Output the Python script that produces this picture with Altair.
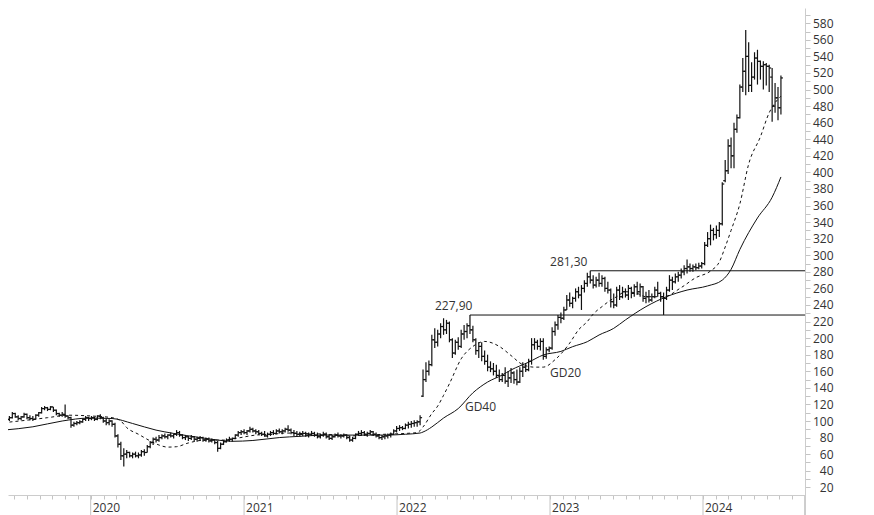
import altair as alt
import pandas as pd

# ---------------- data (weekly OHLC) ----------------
first_week = "2019-06-07"

opens = [96,99,102,104,109,105,103,105,108,104,103,102,107,110,115,116,114,117,113,109,
         107,108,106,104,95,97,98,99,102,104,103,104,102,106,104,100,98,100,96,82,
         72,58,60,62,58,60,58,59,63,62,69,74,78,77,80,82,81,83,82,84,
         86,83,80,81,79,81,78,79,80,77,78,76,77,74,67,72,75,77,78,79,
         83,86,87,86,88,90,88,87,85,84,82,84,86,85,88,87,88,90,89,86,
         85,84,84,85,83,84,85,83,81,83,84,81,79,81,83,82,82,83,80,77,
         79,84,85,86,84,85,87,84,82,80,81,82,83,84,88,91,92,91,95,96,
         97,98,99,130,150,160,168,198,195,205,214,210,218,198,182,195,190,205,208,215,
         210,198,185,190,178,172,165,163,160,155,150,155,148,152,158,150,147,160,165,162,
         172,192,195,190,196,178,186,188,208,216,225,224,234,246,242,248,256,252,260,266,
         274,270,264,270,266,272,260,258,244,240,258,250,256,252,260,254,262,256,262,248,
         250,246,250,258,254,250,248,258,270,268,274,276,280,284,286,284,286,285,287,290,
         312,320,330,325,330,338,390,402,432,420,452,466,503,522,540,505,515,538,534,528,
         530,528,515,480,490,478]
highs = [101,103,106,111,110,107,106,110,109,107,106,108,111,117,118,117,118,117,114,110,
         111,120,107,105,99,100,101,103,106,105,106,105,107,108,105,103,102,101,98,84,
         75,67,65,63,62,63,62,65,66,71,76,80,81,83,84,85,84,86,85,89,
         88,84,83,82,83,82,81,82,81,80,80,79,78,76,74,77,79,81,80,84,
         88,89,90,89,93,92,90,89,87,88,86,88,89,90,91,90,92,95,91,89,
         88,87,88,87,86,88,87,86,85,87,86,84,83,85,86,84,85,84,82,81,
         85,88,89,88,87,89,88,86,84,83,84,85,86,90,94,95,94,97,99,100,
         101,101,107,162,171,173,204,212,210,218,224,222,220,200,198,201,210,216,218,227.9,
         215,200,195,195,185,180,172,170,168,162,158,165,160,164,160,162,165,171,170,175,
         200,200,198,200,200,189,190,213,220,228,231,238,252,255,250,260,262,264,270,279,
         281.3,276,274,279,276,274,268,260,254,262,264,262,260,264,262,265,268,266,263,256,
         258,254,262,268,256,255,262,276,274,278,280,284,288,295,290,289,290,291,292,316,
         328,337,333,336,340,388,415,440,442,460,470,506,538,572,557,533,545,548,535,534,
         532,530,526,508,503,517]
lows = [95,98,100,103,104,101,101,104,102,101,100,102,105,109,113,112,113,111,107,105,
        105,104,102,92,93,95,96,98,100,100,101,100,101,102,98,95,95,93,80,68,
        53,45,55,56,55,56,55,57,58,62,67,71,74,75,78,79,78,80,79,82,
        81,78,77,76,77,76,75,76,75,75,74,74,72,63,66,71,74,75,75,78,
        81,83,84,83,86,86,84,83,82,81,80,82,83,84,85,84,86,87,84,82,
        81,81,82,81,80,82,81,79,79,81,79,77,77,80,80,79,80,78,75,75,
        78,82,83,82,81,83,82,80,78,77,78,79,80,83,86,88,89,90,91,92,
        93,93,95,129,147,155,166,188,190,200,204,205,195,176,180,186,188,198,200,205,
        195,180,176,172,168,160,159,155,152,147,147,145,141,146,145,143,146,153,159,160,
        168,186,186,185,174,175,183,186,203,210,218,222,234,238,236,244,248,234,255,262,
        266,260,261,262,262,256,254,237,236,238,246,248,249,246,248,250,252,250,244,242,
        243,244,248,250,244,228,246,256,258,266,268,272,276,278,280,280,282,283,284,288,
        310,312,318,320,322,336,388,398,405,405,448,465,497,493,497,497,512,506,512,500,
        505,497,461,472,463,470]
closes = [99,102,104,109,105,103,105,108,104,103,102,107,110,115,116,114,117,113,109,107,
          108,106,104,95,97,98,99,102,104,103,104,102,106,104,100,98,100,96,82,72,
          58,60,62,58,60,58,59,63,62,69,74,78,77,80,82,81,83,82,84,86,
          83,80,81,79,81,78,79,80,77,78,76,77,74,67,72,75,77,78,79,83,
          86,87,86,88,90,88,87,85,84,82,84,86,85,88,87,88,90,89,86,85,
          84,84,85,83,84,85,83,81,83,84,81,79,81,83,82,82,83,80,77,79,
          84,85,86,84,85,87,84,82,80,81,82,83,84,88,91,92,91,95,96,97,
          98,99,104,150,160,168,198,195,205,214,210,218,198,182,195,190,205,208,215,210,
          198,185,190,178,172,165,163,160,155,150,155,148,152,158,150,147,160,165,162,172,
          192,195,190,196,178,186,188,208,216,225,224,234,246,242,248,256,252,260,266,274,
          270,264,270,266,272,260,258,244,240,258,250,256,252,260,254,262,256,262,248,250,
          246,250,258,254,250,248,258,270,268,274,276,280,284,286,284,286,285,287,290,312,
          320,330,325,330,338,386,402,432,420,452,466,503,522,540,505,515,538,534,528,530,
          528,526,480,490,478,514]

# moving averages (week index, value)
gd20_week = [0,8,15,22,30,37,40,42,46,50,53,56,59,63,69,75,80,86,92,96,101,110,118,124,130,137,141,
             143,146,148,150,152,156,160,164,169,173,177,181,184,188,193,196,199,201,204,207,209,212,
             216,219,225,231,236,241,244,246,248,251,254,258,261,263,265]
gd20_value = [98,101,104,107,106,104,100,92,84,76,71,68.5,69,73.5,77,77,79.5,83,84,85.5,85,84,82,83,84,85,86,
              92.8,109,118,131,145,175,190,196,190,179,168,165,165,174,194,210,220,229,238,246,250,256,
              254,250,250,261,273,281,292,310,330,362,410,443,472,484,492]
gd40_week = [0,10,20,29,37,44,52,58,67,73,78,85,94,101,110,120,130,137,142,143,146,150,155,160,165,170,
             173,179,184,190,194,199,203,208,212,219,226,233,240,245,248,251,257,262,265]
gd40_value = [89,93,100,103.5,103,97,89,85,80,77,75.5,76.5,80,81.5,83,83,83,84,85.5,86.7,92.8,103.6,115,134,
              147,155.5,161.6,171,179.7,184,189.7,195.7,203.8,211.8,222,238,250,258,263,270,283,307,345,370,394.5]

# resistance levels and labels
level_values = [227.90, 281.30]
level_start_week = [159, 200]
annot_text = ["227,90", "281,30", "GD20", "GD40"]
annot_date = ["2022-04-01T12:00:00Z", "2023-01-01", "2023-01-01", "2022-06-12"]
annot_value = [238.2, 292.3, 157.6, 117.3]

year_dates = ["2020-01-01", "2021-01-01", "2022-01-01", "2023-01-01", "2024-01-01"]
year_labels = ["2020", "2021", "2022", "2023", "2024"]

# ---------------- frames ----------------
weeks = pd.date_range(first_week, periods=len(closes), freq="7D").strftime("%Y-%m-%d")
bars = pd.DataFrame({"date": weeks, "open": opens, "high": highs, "low": lows, "close": closes})
gd20 = pd.DataFrame({"date": [weeks[i] for i in gd20_week], "value": gd20_value})
gd40 = pd.DataFrame({"date": [weeks[i] for i in gd40_week], "value": gd40_value})
levels = pd.DataFrame({"date": [weeks[i] for i in level_start_week], "value": level_values})
annots = pd.DataFrame({"date": annot_date, "value": annot_value, "text": annot_text})
years = pd.DataFrame({"date": year_dates, "label": year_labels})

W, H = 797, 487
FONT = "Open Sans"
INK = "#111111"

x_scale = alt.Scale(type="utc",
                    domain=[alt.DateTime(year=2019, month=6, date=17, hours=17, utc=True),
                            alt.DateTime(year=2024, month=8, date=31, hours=10, utc=True)])
y_scale = alt.Scale(domain=[10.7, 598.4], nice=False, zero=False)
x_axis = alt.Axis(title=None, labels=False, grid=False, tickSize=4,
                  tickCount=alt.TimeIntervalStep(interval="month", step=1),
                  tickColor="#c4c4c4", domainColor="#cccccc")
y_axis = alt.Axis(title=None, orient="right", grid=False, values=list(range(20, 600, 10)),
                  labelExpr="datum.value % 20 == 0 ? datum.label : ''",
                  tickSize=5, labelPadding=23, labelAlign="right", labelFont=FONT,
                  labelFontSize=12, labelColor="#333333", labelOverlap=False, labelFlush=False,
                  tickColor="#c4c4c4", domainColor="#cccccc")


def X(field="date"):
    return alt.X(field, type="temporal", scale=x_scale, axis=x_axis)


def Y(field):
    return alt.Y(field, type="quantitative", scale=y_scale, axis=y_axis)


base = alt.Chart(bars)
hl = base.mark_rule(color=INK, strokeWidth=1.2).encode(x=X(), y=Y("low"), y2="high")
op = base.mark_rule(color=INK, strokeWidth=1.2, xOffset=-2, x2Offset=0).encode(
    x=X(), x2="date", y=Y("open"))
cl = base.mark_rule(color=INK, strokeWidth=1.2, xOffset=0, x2Offset=2).encode(
    x=X(), x2="date", y=Y("close"))

l20 = alt.Chart(gd20).mark_line(color=INK, strokeWidth=1, strokeDash=[3, 3],
                                interpolate="monotone").encode(x=X(), y=Y("value"))
l40 = alt.Chart(gd40).mark_line(color=INK, strokeWidth=1,
                                interpolate="monotone").encode(x=X(), y=Y("value"))

lv = alt.Chart(levels).mark_rule(color=INK, strokeWidth=1).encode(
    x=X(), x2=alt.value(W), y=Y("value"))

tx = alt.Chart(annots).mark_text(align="left", baseline="middle", font=FONT, fontSize=12,
                                 color="#333333").encode(x=X(), y=Y("value"), text="text")

yt = alt.Chart(years).mark_rule(color="#c4c4c4", strokeWidth=1).encode(
    x=X(), y=alt.value(H), y2=alt.value(H + 22))
yl = alt.Chart(years).mark_text(align="left", baseline="middle", dx=2, font=FONT,
                                fontSize=12, color="#333333").encode(
    x=X(), y=alt.value(H + 13), text="label")
ax_ext = alt.Chart(years).mark_rule(color="#cccccc", strokeWidth=1).encode(
    x=alt.value(W), y=alt.value(H), y2=alt.value(H + 22))

chart = alt.layer(hl, op, cl, l20, l40, lv, tx, yt, yl, ax_ext).properties(
    width=W, height=H,
    padding={"left": 0, "top": 0, "right": 61, "bottom": 22},
    autosize=alt.AutoSizeParams(type="none"),
    background="white",
).configure_view(stroke=None)

chart.save("out.html", embed_options={"renderer": "svg", "actions": False})
